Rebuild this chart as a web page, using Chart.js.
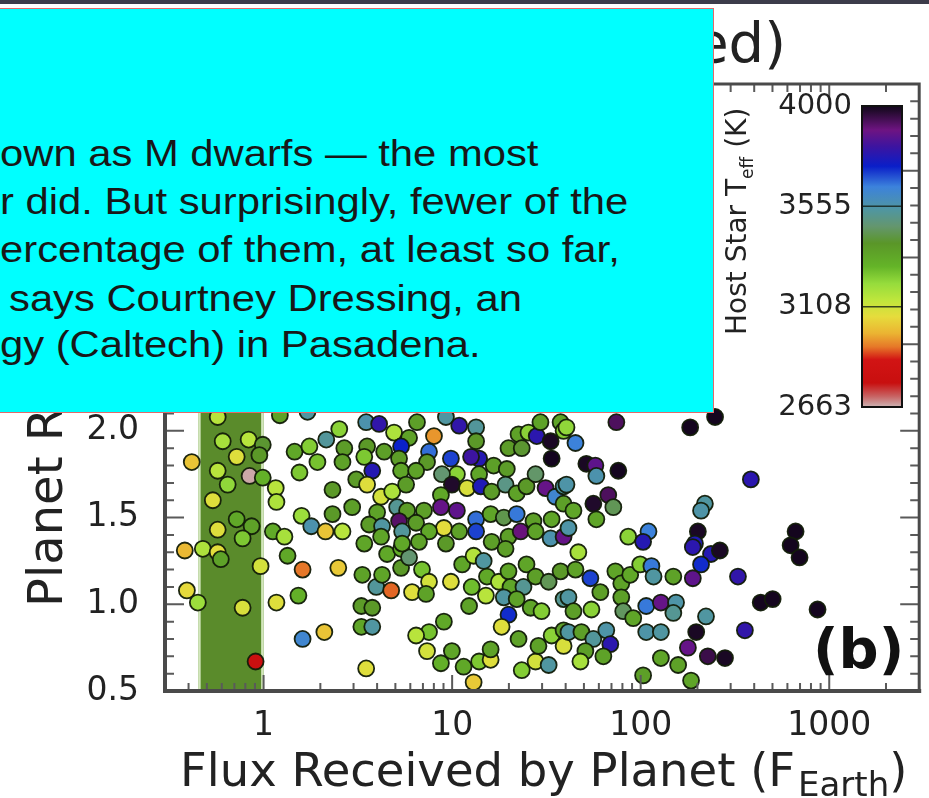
<!DOCTYPE html>
<html>
<head>
<meta charset="utf-8">
<script src="https://cdn.jsdelivr.net/npm/chart.js@4.4.1/dist/chart.umd.min.js"></script>
<style>
  html, body { margin: 0; padding: 0; background: #fff; }
  #wrap { position: relative; width: 929px; height: 798px; overflow: hidden; background: #fff; }
  #c { position: absolute; left: 0; top: 0; }
  #topbar { position: absolute; left: 0; top: 0; width: 929px; height: 4px; background: #3c3c4a; }
  #note {
    position: absolute; left: 0; top: 8px; width: 713px; height: 403px;
    background: #00ffff; border: 1px solid #e26a6a; border-left: none; overflow: hidden;
    font-family: "Liberation Sans", Arial, sans-serif; font-size: 36px; color: #181818;
  }
  #note span { position: absolute; white-space: pre; line-height: 1; transform: scaleX(1.16); transform-origin: 0 0; }
</style>
</head>
<body>
<div id="wrap">
  <canvas id="c" width="929" height="798"></canvas>
  <div id="topbar"></div>
  <div id="note">
    <span style="left:0px;top:127px">own as M dwarfs — the most</span>
    <span style="left:0px;top:175px">r did. But surprisingly, fewer of the</span>
    <span style="left:0px;top:223px">ercentage of them, at least so far,</span>
    <span style="left:9px;top:272px">says Courtney Dressing, an</span>
    <span style="left:0px;top:318px">gy (Caltech) in Pasadena.</span>
  </div>
</div>
<script>
// Planet candidates: incident flux (F_Earth), radius (R_Earth), host star Teff (K)
const fluxes = [
  0.571, 1.22, 1.71, 0.607, 0.833, 0.99, 0.72, 0.95, 0.416, 0.571,
  0.843, 0.99, 0.645, 1.16, 1.17, 0.538, 0.72, 0.864, 0.571, 0.774,
  1.12, 1.29, 1.59, 1.79, 2.13, 2.62, 0.382, 0.476, 0.571, 0.593,
  1.34, 0.964, 1.61, 2.49, 0.392, 0.448, 0.774, 1.17, 1.53, 1.61,
  2.10, 0.907, 3.50, 3.34, 3.30, 3.30, 3.77, 3.96, 4.75, 4.25,
  3.77, 6.13, 4.52, 5.36, 5.36, 5.91, 2.52, 2.15, 1.46, 1.75,
  2.68, 1.93, 1.55, 2.62, 3.10, 2.32, 2.95, 2.32, 3.50, 4.10,
  4.92, 5.91, 5.36, 3.54, 4.36, 3.42, 3.77, 5.23, 5.36, 3.54,
  4.20, 4.81, 5.70, 5.11, 5.77, 4.00, 3.63, 4.25, 5.23, 5.43,
  4.20, 3.42, 5.43, 6.51, 8.01, 9.27, 10.9, 13.4, 13.4, 7.54,
  9.85, 7.36, 13.9, 12.6, 16.6, 19.5, 10.6, 13.9, 8.83, 6.44,
  9.97, 12.0, 14.2, 8.72, 16.2, 19.2, 22.0, 24.8, 22.5, 25.4,
  19.9, 23.4, 28.1, 29.4, 33.7, 33.3, 27.7, 31.3, 35.3, 39.0,
  39.0, 37.6, 39.0, 7.09, 8.72, 10.6, 13.4, 16.0, 18.8, 22.0,
  27.0, 33.7, 6.44, 9.04, 10.9, 13.4, 7.54, 16.2, 19.9, 23.1,
  27.7, 33.3, 39.0, 6.67, 9.27, 6.92, 7.54, 7.27, 9.85, 11.3,
  13.0, 14.7, 12.7, 15.1, 15.3, 12.3, 17.7, 19.9, 19.2, 24.8,
  20.4, 18.8, 23.9, 27.7, 32.5, 37.6, 22.0, 26.1, 29.8, 19.9,
  18.3, 22.5, 9.04, 7.54, 6.44, 7.36, 8.72, 9.97, 11.5, 13.9,
  16.0, 16.0, 13.0, 23.4, 27.7, 28.7, 33.7, 32.5, 39.0, 39.0,
  39.0, 74.3, 183, 248, 40.4, 45.1, 51.5, 57.5, 58.2, 76.1,
  40.4, 67.3, 56.1, 71.6, 44.0, 58.2, 41.4, 85.9, 110, 103,
  219, 209, 201, 194, 384, 236, 263, 209, 189, 328,
  663, 624, 696, 433, 501, 867, 357, 178, 227, 280,
  197, 222, 128, 158, 185, 103, 46.7, 45.1, 54.1, 61.1,
  41.4, 44.0, 54.8, 41.4, 48.5, 56.1, 65.7, 69.0, 50.9, 63.4,
  47.9, 73.4, 78.9, 78.9, 80.8, 91.3, 88.0, 99.4, 114, 117,
  149, 107, 128, 154, 149, 107, 128, 189
];
const radii = [
  2.08, 2.09, 2.11, 1.94, 1.95, 1.92, 1.85, 1.86, 1.82, 1.77,
  1.74, 1.73, 1.69, 1.67, 1.59, 1.60, 1.49, 1.45, 1.43, 1.38,
  1.42, 1.39, 1.51, 1.45, 1.42, 1.42, 1.31, 1.32, 1.30, 1.26,
  1.28, 1.22, 1.20, 1.21, 1.08, 1.01, 0.98, 1.01, 1.05, 0.80,
  0.84, 0.67, 0.63, 1.17, 0.99, 0.87, 0.87, 1.10, 1.08, 1.17,
  0.98, 1.07, 1.29, 1.32, 1.21, 1.27, 2.01, 1.95, 1.88, 1.91,
  1.90, 1.82, 1.76, 1.82, 1.72, 1.66, 1.56, 1.52, 2.05, 2.04,
  1.99, 1.96, 1.91, 1.91, 1.88, 1.85, 1.77, 1.84, 1.77, 1.69,
  1.62, 1.65, 1.69, 1.56, 1.54, 1.53, 1.46, 1.45, 1.48, 1.42,
  1.39, 1.35, 1.35, 2.05, 1.97, 2.08, 2.03, 2.02, 1.94, 1.88,
  1.84, 1.82, 1.84, 1.85, 1.80, 1.78, 1.75, 1.75, 1.75, 1.77,
  1.69, 1.67, 1.68, 1.63, 1.65, 1.69, 1.64, 1.68, 1.98, 1.99,
  1.90, 1.90, 1.97, 2.05, 1.84, 1.94, 1.75, 1.67, 1.62, 1.68,
  1.58, 2.05, 2.00, 1.54, 1.56, 1.54, 1.49, 1.52, 1.50, 1.52,
  1.48, 1.49, 1.47, 1.44, 1.42, 1.42, 1.42, 1.36, 1.39, 1.42,
  1.42, 1.38, 1.39, 1.36, 1.35, 1.20, 1.13, 1.06, 1.13, 1.23,
  1.28, 1.25, 1.10, 1.05, 1.16, 0.99, 1.13, 1.19, 1.32, 1.23,
  1.10, 1.04, 1.10, 1.16, 1.13, 1.19, 1.03, 0.98, 0.96, 0.94,
  0.87, 0.80, 0.90, 0.84, 0.82, 0.73, 0.66, 0.73, 0.64, 0.67,
  0.68, 0.74, 0.55, 0.62, 0.67, 0.76, 0.82, 0.65, 0.76, 0.85,
  1.03, 2.05, 2.02, 2.08, 2.02, 1.93, 1.81, 1.80, 1.74, 1.77,
  1.69, 1.63, 1.58, 1.56, 1.54, 1.49, 1.44, 1.39, 1.42, 1.36,
  1.58, 1.54, 1.42, 1.35, 1.72, 1.29, 1.31, 1.23, 1.15, 1.16,
  1.42, 1.34, 1.27, 1.01, 1.03, 0.97, 0.85, 0.75, 0.70, 0.69,
  0.84, 0.93, 0.69, 0.65, 0.56, 0.59, 1.30, 1.20, 1.15, 1.07,
  1.04, 0.96, 0.97, 0.84, 0.84, 0.80, 0.85, 0.77, 0.73, 0.70,
  0.67, 1.19, 1.12, 1.04, 0.96, 0.92, 1.17, 1.23, 1.22, 1.16,
  1.16, 0.99, 1.01, 1.01, 0.95, 0.84, 0.84, 1.33
];
const temps = [
  3150, 3350, 3540, 3180, 3150, 3400, 3080, 3380, 3020, 3150,
  2670, 3300, 3220, 3150, 3170, 3080, 3330, 3350, 3080, 3250,
  3320, 3180, 3200, 3560, 3020, 3150, 3000, 3170, 3070, 3350,
  3330, 3100, 2930, 3030, 3060, 3200, 3090, 3080, 3300, 3620,
  3020, 2800, 3080, 3350, 3370, 3340, 3540, 3530, 2920, 3340,
  3380, 3080, 3330, 3310, 3380, 3470, 3230, 3530, 3330, 3240,
  3370, 3260, 3250, 3350, 3370, 3380, 3360, 3380, 3560, 3800,
  3170, 3350, 3730, 3380, 3360, 3250, 3780, 3370, 3340, 3080,
  3100, 3170, 3370, 3520, 3370, 3350, 3370, 3540, 3920, 3530,
  3340, 3340, 3330, 3360, 2960, 3540, 3800, 3530, 3380, 3660,
  3700, 3380, 3780, 3820, 3360, 3370, 3230, 3340, 3470, 3350,
  3980, 3090, 3770, 3330, 3370, 3500, 3350, 3380, 3350, 3230,
  3370, 3400, 3790, 3350, 4000, 3990, 3460, 3880, 3620, 3540,
  3360, 3340, 3240, 3360, 3880, 3870, 3660, 3340, 3430, 3650,
  3360, 3340, 3370, 3070, 3350, 3700, 3330, 3360, 3360, 3900,
  3350, 3560, 3880, 3350, 3380, 3260, 3100, 3350, 3080, 3340,
  3160, 3540, 3270, 3150, 3330, 3350, 3170, 3340, 3360, 3340,
  3340, 3540, 3520, 3360, 3440, 3380, 3350, 3340, 3240, 3720,
  3080, 3350, 3330, 3260, 3150, 3100, 3300, 3340, 3330, 3250,
  3080, 3350, 3030, 3240, 3100, 3350, 3230, 3540, 3090, 3360,
  3520, 3930, 4000, 4000, 3220, 3640, 3990, 3870, 3560, 4000,
  3550, 3930, 3980, 3440, 3340, 3340, 3550, 3230, 3640, 3780,
  3540, 3550, 3990, 3770, 3790, 3780, 3990, 3720, 3870, 3800,
  4000, 4000, 4000, 4000, 4000, 4000, 3800, 3880, 3950, 3990,
  3990, 3540, 3340, 3350, 3340, 3360, 3180, 3350, 3700, 3360,
  3540, 3360, 3230, 3540, 3360, 3530, 3550, 3790, 3360, 3350,
  3180, 3340, 3350, 3360, 3450, 3340, 3330, 3240, 3650, 3540,
  3350, 3650, 3880, 3550, 3520, 3550, 3540, 3790
];

// Axis ticks
const xMajorTicks = [1, 10, 100, 1000];
const xTickValues = [0.3, 0.4, 0.5, 0.6, 0.7, 0.8, 0.9,
  1, 2, 3, 4, 5, 6, 7, 8, 9,
  10, 20, 30, 40, 50, 60, 70, 80, 90,
  100, 200, 300, 400, 500, 600, 700, 800, 900,
  1000, 2000, 3000];
const yTickValues = [0.5, 0.6, 0.7, 0.8, 0.9, 1.0, 1.1, 1.2, 1.3, 1.4, 1.5, 1.6, 1.7, 1.8, 1.9,
  2.0, 2.1, 2.2, 2.3, 2.4, 2.5, 2.6, 2.7, 2.8, 2.9, 3.0, 3.1, 3.2, 3.3, 3.4, 3.5,
  3.6, 3.7, 3.8, 3.9, 4.0];
const yLabelTicks = [0.5, 1.0, 1.5, 2.0, 2.5, 3.0, 3.5, 4.0];

// Colour bar (host star temperature)
const cbarTicks = [4000, 3555, 3108, 2663];
const T_MIN = 2663, T_MAX = 4000;

// Shaded flux band
const bandLo = 0.45, bandHi = 1.0;

const titleTail = 'ed)';
const panelLabel = '(b)';

// colour map stops: [fraction, r, g, b]
const cmapStops = [
  [0.000, 205, 180, 180], [0.035, 200, 100, 100], [0.080, 200, 15, 15],
  [0.157, 210, 20, 20], [0.200, 230, 120, 40], [0.245, 235, 180, 50],
  [0.300, 230, 220, 60], [0.356, 190, 230, 60], [0.410, 150, 220, 60],
  [0.467, 100, 180, 40], [0.544, 90, 150, 40], [0.600, 100, 150, 110],
  [0.655, 80, 150, 160], [0.732, 60, 130, 220], [0.800, 10, 30, 200],
  [0.865, 60, 20, 160], [0.920, 110, 20, 130], [0.987, 30, 10, 40],
  [1.000, 20, 5, 30]
];
function cmapFrac(t) {
  t = Math.max(0, Math.min(1, t));
  for (let i = 1; i < cmapStops.length; i++) {
    const a = cmapStops[i - 1], b = cmapStops[i];
    if (t <= b[0]) {
      const u = (t - a[0]) / (b[0] - a[0]);
      const c = [1, 2, 3].map(k => Math.round(a[k] + (b[k] - a[k]) * u));
      return `rgb(${c[0]},${c[1]},${c[2]})`;
    }
  }
  const l = cmapStops[cmapStops.length - 1];
  return `rgb(${l[1]},${l[2]},${l[3]})`;
}
function tempColor(T) { return cmapFrac((T - T_MIN) / (T_MAX - T_MIN)); }

const FONT = 'DejaVu Sans';
const INK = '#222';

// draws a run of text pieces (with optional subscripts) starting at the current origin
function drawRuns(ctx, runs) {
  let x = 0;
  for (const r of runs) {
    ctx.font = `${r.bold ? 'bold ' : ''}${r.size}px "${FONT}"`;
    x += r.gap || 0;
    ctx.fillText(r.text, x, r.dy || 0);
    x += ctx.measureText(r.text).width;
  }
}

const decor = {
  id: 'decor',
  beforeDatasetsDraw(chart) {
    const { ctx, chartArea: a, scales: { x } } = chart;
    const x0 = x.getPixelForValue(bandLo), x1 = x.getPixelForValue(bandHi);
    ctx.save();
    ctx.fillStyle = '#5a8b2b';
    ctx.fillRect(x0, a.top, x1 - x0, a.bottom - a.top);
    ctx.strokeStyle = '#d3e6bd';
    ctx.lineWidth = 2.5;
    ctx.beginPath();
    ctx.moveTo(x0 + 1.2, a.top); ctx.lineTo(x0 + 1.2, a.bottom);
    ctx.moveTo(x1 - 1.2, a.top); ctx.lineTo(x1 - 1.2, a.bottom);
    ctx.stroke();
    ctx.restore();
  },
  afterDraw(chart) {
    const { ctx, chartArea: a, scales: { x, y } } = chart;
    ctx.save();

    // inward tick marks on all four sides
    ctx.strokeStyle = '#5a5a5a';
    ctx.lineWidth = 2;
    ctx.beginPath();
    for (const v of xTickValues) {
      const px = x.getPixelForValue(v);
      if (px <= a.left + 1 || px >= a.right - 1) continue;
      const len = xMajorTicks.includes(v) ? 16 : 8;
      ctx.moveTo(px, a.bottom); ctx.lineTo(px, a.bottom - len);
      ctx.moveTo(px, a.top); ctx.lineTo(px, a.top + len);
    }
    for (const v of yTickValues) {
      const py = y.getPixelForValue(v);
      if (py <= a.top + 1 || py >= a.bottom - 1) continue;
      const len = yLabelTicks.some(t => Math.abs(t - v) < 1e-6) ? 19 : 9;
      ctx.moveTo(a.left, py); ctx.lineTo(a.left + len, py);
      ctx.moveTo(a.right, py); ctx.lineTo(a.right - len, py);
    }
    ctx.stroke();

    // axes frame
    ctx.strokeStyle = '#4a4a4a';
    ctx.lineCap = 'square';
    ctx.lineWidth = 4;
    ctx.beginPath();
    ctx.moveTo(a.left, a.top); ctx.lineTo(a.left, a.bottom); ctx.lineTo(a.right, a.bottom);
    ctx.stroke();
    ctx.lineWidth = 3;
    ctx.beginPath();
    ctx.moveTo(a.left, a.top); ctx.lineTo(a.right, a.top); ctx.lineTo(a.right, a.bottom);
    ctx.stroke();

    // panel label
    ctx.fillStyle = '#111';
    ctx.textAlign = 'left';
    ctx.textBaseline = 'alphabetic';
    ctx.font = `bold 56px "${FONT}"`;
    ctx.fillText(panelLabel, 813, 668);

    // colour bar
    const cb = { left: 862, right: 902, top: 106, bottom: 407 };
    const grad = ctx.createLinearGradient(0, cb.bottom, 0, cb.top);
    for (const s of cmapStops) grad.addColorStop(s[0], `rgb(${s[1]},${s[2]},${s[3]})`);
    ctx.fillStyle = grad;
    ctx.fillRect(cb.left, cb.top, cb.right - cb.left, cb.bottom - cb.top);
    const tY = T => cb.bottom - (T - T_MIN) / (T_MAX - T_MIN) * (cb.bottom - cb.top);
    ctx.strokeStyle = 'rgba(20,30,20,0.8)';
    ctx.lineWidth = 1.5;
    ctx.beginPath();
    for (const T of cbarTicks) {
      if (T === T_MIN || T === T_MAX) continue;
      ctx.moveTo(cb.left, tY(T)); ctx.lineTo(cb.right, tY(T));
    }
    ctx.stroke();
    ctx.strokeStyle = '#111';
    ctx.lineWidth = 2;
    ctx.strokeRect(cb.left, cb.top, cb.right - cb.left, cb.bottom - cb.top);
    ctx.fillStyle = INK;
    ctx.font = `29px "${FONT}"`;
    ctx.textAlign = 'right';
    ctx.textBaseline = 'middle';
    for (const T of cbarTicks) ctx.fillText(String(T), 852, tY(T));

    ctx.textAlign = 'left';
    ctx.textBaseline = 'alphabetic';
    ctx.fillStyle = INK;

    // colour bar title
    ctx.save();
    ctx.translate(746, 335);
    ctx.rotate(-Math.PI / 2);
    drawRuns(ctx, [{ text: 'Host Star T', size: 28 }, { text: 'eff', size: 17, dy: 7 }, { text: ' (K)', size: 28 }]);
    ctx.restore();

    // x axis title
    ctx.save();
    ctx.translate(180, 786);
    drawRuns(ctx, [{ text: 'Flux Received by Planet (F', size: 46.5 }, { text: 'Earth', size: 34, dy: 10, gap: 3 }, { text: ')', size: 46.5 }]);
    ctx.restore();

    // y axis title
    ctx.save();
    ctx.translate(62, 607);
    ctx.rotate(-Math.PI / 2);
    drawRuns(ctx, [{ text: 'Planet Radius (R', size: 48 }, { text: 'Earth', size: 34, dy: 11 }, { text: ')', size: 48 }]);
    ctx.restore();

    // figure title
    ctx.font = `56px "${FONT}"`;
    ctx.textAlign = 'right';
    ctx.fillText(titleTail, 786, 62);

    ctx.restore();
  }
};

new Chart(document.getElementById('c'), {
  type: 'scatter',
  data: {
    datasets: [{
      data: fluxes.map((f, i) => ({ x: f, y: radii[i] })),
      backgroundColor: ctx => tempColor(temps[ctx.dataIndex]),
      borderColor: 'rgba(18,28,8,0.95)',
      borderWidth: 1.8,
      pointRadius: 8,
      pointHoverRadius: 8
    }]
  },
  options: {
    responsive: false,
    animation: false,
    devicePixelRatio: 1,
    layout: { padding: { top: 84, right: 7, left: 0, bottom: 0 } },
    plugins: { legend: { display: false }, tooltip: { enabled: false } },
    scales: {
      x: {
        type: 'logarithmic', min: 0.3, max: 3000,
        afterBuildTicks: s => { s.ticks = xTickValues.map(v => ({ value: v, major: xMajorTicks.includes(v) })); },
        afterFit: s => { s.height = 107; },
        grid: { display: false }, border: { display: false },
        ticks: {
          autoSkip: false, maxRotation: 0, minRotation: 0, padding: 8,
          color: INK, font: { family: FONT, size: 33 },
          callback: v => xMajorTicks.includes(v) ? String(v) : ''
        }
      },
      y: {
        type: 'linear', min: 0.5, max: 4.0,
        afterBuildTicks: s => { s.ticks = yTickValues.map(v => ({ value: v })); },
        afterFit: s => { s.width = 165; },
        grid: { display: false }, border: { display: false },
        ticks: {
          autoSkip: false, padding: 18,
          color: INK, font: { family: FONT, size: 33 },
          callback: v => yLabelTicks.some(t => Math.abs(t - v) < 1e-6) ? v.toFixed(1) : ''
        }
      }
    }
  },
  plugins: [decor]
});
</script>
</body>
</html>
